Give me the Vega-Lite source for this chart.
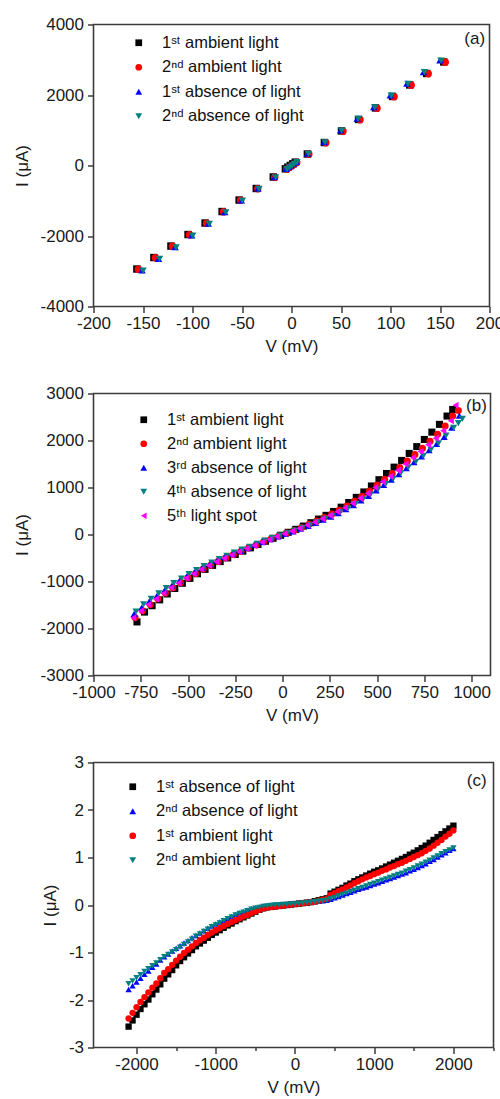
{
"$schema":"https://vega.github.io/schema/vega-lite/v6.json",
"background":"white",
"padding":{"left":11.5,"top":14.5,"right":0,"bottom":0},
"bounds":"flush",
"spacing":87,
"resolve":{"scale":{"color":"independent","shape":"independent"},"legend":{"color":"independent","shape":"independent"}},
"config":{
"view":{"stroke":"#3c3c3c","strokeWidth":1.6},
"axis":{"labelFont":"Liberation Sans","labelFontSize":17,"labelColor":"#1a1a1a","titleFont":"Liberation Sans","titleFontSize":17,"titleFontWeight":"normal","titleColor":"#1a1a1a","tickColor":"#3c3c3c","tickWidth":1.5,"domain":false,"grid":false,"labelOverlap":false,"labelBound":false,"labelFlush":false},
"axisX":{"labelPadding":3,"titlePadding":7},
"axisY":{"labelPadding":4,"titlePadding":9},
"legend":{"labelFont":"Liberation Sans, DejaVu Sans","labelFontSize":16.5,"labelColor":"#111","symbolSize":45,"symbolStrokeWidth":0,"rowPadding":7.5,"labelOffset":15,"padding":0,"title":null},
"text":{"font":"Liberation Sans","fontSize":17,"color":"#1a1a1a"}
},
"datasets":{
"a":[
{"s":"1ˢᵗ ambient light","V":-156.2,"I":-2937},{"s":"1ˢᵗ ambient light","V":-139,"I":-2611},{"s":"1ˢᵗ ambient light","V":-121.8,"I":-2285},{"s":"1ˢᵗ ambient light","V":-104.5,"I":-1958},{"s":"1ˢᵗ ambient light","V":-87.3,"I":-1632},{"s":"1ˢᵗ ambient light","V":-70.1,"I":-1306},{"s":"1ˢᵗ ambient light","V":-52.9,"I":-980},{"s":"1ˢᵗ ambient light","V":-35.6,"I":-652},{"s":"1ˢᵗ ambient light","V":-18.4,"I":-326},{"s":"1ˢᵗ ambient light","V":-6.2,"I":-95},{"s":"1ˢᵗ ambient light","V":-3.7,"I":-47},{"s":"1ˢᵗ ambient light","V":-1.2,"I":0},{"s":"1ˢᵗ ambient light","V":1.3,"I":47},{"s":"1ˢᵗ ambient light","V":3.8,"I":95},{"s":"1ˢᵗ ambient light","V":16,"I":326},{"s":"1ˢᵗ ambient light","V":33.2,"I":652},{"s":"1ˢᵗ ambient light","V":50.5,"I":980},{"s":"1ˢᵗ ambient light","V":67.7,"I":1306},{"s":"1ˢᵗ ambient light","V":84.9,"I":1632},{"s":"1ˢᵗ ambient light","V":102.1,"I":1958},{"s":"1ˢᵗ ambient light","V":119.4,"I":2285},{"s":"1ˢᵗ ambient light","V":136.6,"I":2611},{"s":"1ˢᵗ ambient light","V":153.8,"I":2937},
{"s":"2ⁿᵈ ambient light","V":-154.7,"I":-2945},{"s":"2ⁿᵈ ambient light","V":-137.5,"I":-2619},{"s":"2ⁿᵈ ambient light","V":-120.3,"I":-2293},{"s":"2ⁿᵈ ambient light","V":-103,"I":-1966},{"s":"2ⁿᵈ ambient light","V":-85.8,"I":-1640},{"s":"2ⁿᵈ ambient light","V":-68.6,"I":-1314},{"s":"2ⁿᵈ ambient light","V":-51.4,"I":-988},{"s":"2ⁿᵈ ambient light","V":-34.1,"I":-660},{"s":"2ⁿᵈ ambient light","V":-16.9,"I":-334},{"s":"2ⁿᵈ ambient light","V":-4.7,"I":-103},{"s":"2ⁿᵈ ambient light","V":-2.2,"I":-55},{"s":"2ⁿᵈ ambient light","V":0.3,"I":-8},{"s":"2ⁿᵈ ambient light","V":2.8,"I":39},{"s":"2ⁿᵈ ambient light","V":5.3,"I":87},{"s":"2ⁿᵈ ambient light","V":17.5,"I":318},{"s":"2ⁿᵈ ambient light","V":34.7,"I":644},{"s":"2ⁿᵈ ambient light","V":52,"I":972},{"s":"2ⁿᵈ ambient light","V":69.2,"I":1298},{"s":"2ⁿᵈ ambient light","V":86.4,"I":1624},{"s":"2ⁿᵈ ambient light","V":103.6,"I":1950},{"s":"2ⁿᵈ ambient light","V":120.9,"I":2277},{"s":"2ⁿᵈ ambient light","V":138.1,"I":2603},{"s":"2ⁿᵈ ambient light","V":155.3,"I":2929},
{"s":"1ˢᵗ absence of light","V":-151,"I":-2975},{"s":"1ˢᵗ absence of light","V":-134.3,"I":-2644},{"s":"1ˢᵗ absence of light","V":-117.6,"I":-2314},{"s":"1ˢᵗ absence of light","V":-100.8,"I":-1981},{"s":"1ˢᵗ absence of light","V":-84.1,"I":-1650},{"s":"1ˢᵗ absence of light","V":-67.4,"I":-1320},{"s":"1ˢᵗ absence of light","V":-50.7,"I":-989},{"s":"1ˢᵗ absence of light","V":-33.9,"I":-656},{"s":"1ˢᵗ absence of light","V":-17.2,"I":-326},{"s":"1ˢᵗ absence of light","V":-5.5,"I":-94},{"s":"1ˢᵗ absence of light","V":-3,"I":-45},{"s":"1ˢᵗ absence of light","V":-0.5,"I":5},{"s":"1ˢᵗ absence of light","V":2,"I":55},{"s":"1ˢᵗ absence of light","V":4.5,"I":104},{"s":"1ˢᵗ absence of light","V":16.2,"I":336},{"s":"1ˢᵗ absence of light","V":32.9,"I":666},{"s":"1ˢᵗ absence of light","V":49.7,"I":999},{"s":"1ˢᵗ absence of light","V":66.4,"I":1330},{"s":"1ˢᵗ absence of light","V":83.1,"I":1660},{"s":"1ˢᵗ absence of light","V":99.8,"I":1991},{"s":"1ˢᵗ absence of light","V":116.6,"I":2324},{"s":"1ˢᵗ absence of light","V":133.3,"I":2654},{"s":"1ˢᵗ absence of light","V":150,"I":2985},
{"s":"2ⁿᵈ absence of light","V":-150,"I":-2985},{"s":"2ⁿᵈ absence of light","V":-133.3,"I":-2654},{"s":"2ⁿᵈ absence of light","V":-116.6,"I":-2324},{"s":"2ⁿᵈ absence of light","V":-99.8,"I":-1991},{"s":"2ⁿᵈ absence of light","V":-83.1,"I":-1660},{"s":"2ⁿᵈ absence of light","V":-66.4,"I":-1330},{"s":"2ⁿᵈ absence of light","V":-49.7,"I":-999},{"s":"2ⁿᵈ absence of light","V":-32.9,"I":-666},{"s":"2ⁿᵈ absence of light","V":-16.2,"I":-336},{"s":"2ⁿᵈ absence of light","V":-4.5,"I":-104},{"s":"2ⁿᵈ absence of light","V":-2,"I":-55},{"s":"2ⁿᵈ absence of light","V":0.5,"I":-5},{"s":"2ⁿᵈ absence of light","V":3,"I":45},{"s":"2ⁿᵈ absence of light","V":5.5,"I":94},{"s":"2ⁿᵈ absence of light","V":17.2,"I":326},{"s":"2ⁿᵈ absence of light","V":33.9,"I":656},{"s":"2ⁿᵈ absence of light","V":50.7,"I":989},{"s":"2ⁿᵈ absence of light","V":67.4,"I":1320},{"s":"2ⁿᵈ absence of light","V":84.1,"I":1650},{"s":"2ⁿᵈ absence of light","V":100.8,"I":1981},{"s":"2ⁿᵈ absence of light","V":117.6,"I":2314},{"s":"2ⁿᵈ absence of light","V":134.3,"I":2644},{"s":"2ⁿᵈ absence of light","V":151,"I":2975}
],
"b":[
{"s":"1ˢᵗ ambient light","V":-770,"I":-1860},{"s":"1ˢᵗ ambient light","V":-730,"I":-1650},{"s":"1ˢᵗ ambient light","V":-690,"I":-1515},{"s":"1ˢᵗ ambient light","V":-650,"I":-1390},{"s":"1ˢᵗ ambient light","V":-610,"I":-1265},{"s":"1ˢᵗ ambient light","V":-570,"I":-1148},{"s":"1ˢᵗ ambient light","V":-530,"I":-1037},{"s":"1ˢᵗ ambient light","V":-490,"I":-933},{"s":"1ˢᵗ ambient light","V":-450,"I":-835},{"s":"1ˢᵗ ambient light","V":-410,"I":-742},{"s":"1ˢᵗ ambient light","V":-370,"I":-657},{"s":"1ˢᵗ ambient light","V":-330,"I":-576},{"s":"1ˢᵗ ambient light","V":-290,"I":-498},{"s":"1ˢᵗ ambient light","V":-250,"I":-424},{"s":"1ˢᵗ ambient light","V":-210,"I":-353},{"s":"1ˢᵗ ambient light","V":-170,"I":-284},{"s":"1ˢᵗ ambient light","V":-130,"I":-212},{"s":"1ˢᵗ ambient light","V":-90,"I":-143},{"s":"1ˢᵗ ambient light","V":-50,"I":-80},{"s":"1ˢᵗ ambient light","V":-10,"I":-16},{"s":"1ˢᵗ ambient light","V":30,"I":47},{"s":"1ˢᵗ ambient light","V":70,"I":110},{"s":"1ˢᵗ ambient light","V":110,"I":179},{"s":"1ˢᵗ ambient light","V":150,"I":251},{"s":"1ˢᵗ ambient light","V":190,"I":328},{"s":"1ˢᵗ ambient light","V":230,"I":407},{"s":"1ˢᵗ ambient light","V":270,"I":490},{"s":"1ˢᵗ ambient light","V":310,"I":581},{"s":"1ˢᵗ ambient light","V":350,"I":680},{"s":"1ˢᵗ ambient light","V":390,"I":790},{"s":"1ˢᵗ ambient light","V":430,"I":905},{"s":"1ˢᵗ ambient light","V":470,"I":1032},{"s":"1ˢᵗ ambient light","V":510,"I":1166},{"s":"1ˢᵗ ambient light","V":550,"I":1298},{"s":"1ˢᵗ ambient light","V":590,"I":1433},{"s":"1ˢᵗ ambient light","V":630,"I":1576},{"s":"1ˢᵗ ambient light","V":670,"I":1725},{"s":"1ˢᵗ ambient light","V":710,"I":1870},{"s":"1ˢᵗ ambient light","V":750,"I":2022},{"s":"1ˢᵗ ambient light","V":790,"I":2178},{"s":"1ˢᵗ ambient light","V":830,"I":2343},{"s":"1ˢᵗ ambient light","V":870,"I":2520},{"s":"1ˢᵗ ambient light","V":900,"I":2660},
{"s":"2ⁿᵈ ambient light","V":-780,"I":-1768},{"s":"2ⁿᵈ ambient light","V":-740,"I":-1623},{"s":"2ⁿᵈ ambient light","V":-700,"I":-1489},{"s":"2ⁿᵈ ambient light","V":-660,"I":-1367},{"s":"2ⁿᵈ ambient light","V":-620,"I":-1246},{"s":"2ⁿᵈ ambient light","V":-580,"I":-1131},{"s":"2ⁿᵈ ambient light","V":-540,"I":-1024},{"s":"2ⁿᵈ ambient light","V":-500,"I":-920},{"s":"2ⁿᵈ ambient light","V":-460,"I":-828},{"s":"2ⁿᵈ ambient light","V":-420,"I":-734},{"s":"2ⁿᵈ ambient light","V":-380,"I":-653},{"s":"2ⁿᵈ ambient light","V":-340,"I":-572},{"s":"2ⁿᵈ ambient light","V":-300,"I":-497},{"s":"2ⁿᵈ ambient light","V":-260,"I":-426},{"s":"2ⁿᵈ ambient light","V":-220,"I":-356},{"s":"2ⁿᵈ ambient light","V":-180,"I":-289},{"s":"2ⁿᵈ ambient light","V":-140,"I":-222},{"s":"2ⁿᵈ ambient light","V":-100,"I":-153},{"s":"2ⁿᵈ ambient light","V":-60,"I":-92},{"s":"2ⁿᵈ ambient light","V":-20,"I":-31},{"s":"2ⁿᵈ ambient light","V":20,"I":29},{"s":"2ⁿᵈ ambient light","V":60,"I":87},{"s":"2ⁿᵈ ambient light","V":100,"I":149},{"s":"2ⁿᵈ ambient light","V":140,"I":216},{"s":"2ⁿᵈ ambient light","V":180,"I":284},{"s":"2ⁿᵈ ambient light","V":220,"I":360},{"s":"2ⁿᵈ ambient light","V":260,"I":433},{"s":"2ⁿᵈ ambient light","V":300,"I":516},{"s":"2ⁿᵈ ambient light","V":340,"I":605},{"s":"2ⁿᵈ ambient light","V":380,"I":705},{"s":"2ⁿᵈ ambient light","V":420,"I":812},{"s":"2ⁿᵈ ambient light","V":460,"I":925},{"s":"2ⁿᵈ ambient light","V":500,"I":1051},{"s":"2ⁿᵈ ambient light","V":540,"I":1173},{"s":"2ⁿᵈ ambient light","V":580,"I":1296},{"s":"2ⁿᵈ ambient light","V":620,"I":1427},{"s":"2ⁿᵈ ambient light","V":660,"I":1564},{"s":"2ⁿᵈ ambient light","V":700,"I":1701},{"s":"2ⁿᵈ ambient light","V":740,"I":1837},{"s":"2ⁿᵈ ambient light","V":780,"I":1984},{"s":"2ⁿᵈ ambient light","V":820,"I":2132},{"s":"2ⁿᵈ ambient light","V":860,"I":2308},{"s":"2ⁿᵈ ambient light","V":900,"I":2520},{"s":"2ⁿᵈ ambient light","V":930,"I":2640},
{"s":"3ʳᵈ absence of light","V":-785,"I":-1690},{"s":"3ʳᵈ absence of light","V":-745,"I":-1552},{"s":"3ʳᵈ absence of light","V":-705,"I":-1423},{"s":"3ʳᵈ absence of light","V":-665,"I":-1308},{"s":"3ʳᵈ absence of light","V":-625,"I":-1194},{"s":"3ʳᵈ absence of light","V":-585,"I":-1084},{"s":"3ʳᵈ absence of light","V":-545,"I":-984},{"s":"3ʳᵈ absence of light","V":-505,"I":-883},{"s":"3ʳᵈ absence of light","V":-465,"I":-797},{"s":"3ʳᵈ absence of light","V":-425,"I":-707},{"s":"3ʳᵈ absence of light","V":-385,"I":-630},{"s":"3ʳᵈ absence of light","V":-345,"I":-554},{"s":"3ʳᵈ absence of light","V":-305,"I":-482},{"s":"3ʳᵈ absence of light","V":-265,"I":-415},{"s":"3ʳᵈ absence of light","V":-225,"I":-349},{"s":"3ʳᵈ absence of light","V":-185,"I":-287},{"s":"3ʳᵈ absence of light","V":-145,"I":-224},{"s":"3ʳᵈ absence of light","V":-105,"I":-158},{"s":"3ʳᵈ absence of light","V":-65,"I":-100},{"s":"3ʳᵈ absence of light","V":-25,"I":-43},{"s":"3ʳᵈ absence of light","V":15,"I":14},{"s":"3ʳᵈ absence of light","V":55,"I":66},{"s":"3ʳᵈ absence of light","V":95,"I":122},{"s":"3ʳᵈ absence of light","V":135,"I":183},{"s":"3ʳᵈ absence of light","V":175,"I":244},{"s":"3ʳᵈ absence of light","V":215,"I":315},{"s":"3ʳᵈ absence of light","V":255,"I":381},{"s":"3ʳᵈ absence of light","V":295,"I":456},{"s":"3ʳᵈ absence of light","V":335,"I":536},{"s":"3ʳᵈ absence of light","V":375,"I":625},{"s":"3ʳᵈ absence of light","V":415,"I":724},{"s":"3ʳᵈ absence of light","V":455,"I":823},{"s":"3ʳᵈ absence of light","V":495,"I":940},{"s":"3ʳᵈ absence of light","V":535,"I":1053},{"s":"3ʳᵈ absence of light","V":575,"I":1166},{"s":"3ʳᵈ absence of light","V":615,"I":1283},{"s":"3ʳᵈ absence of light","V":655,"I":1410},{"s":"3ʳᵈ absence of light","V":695,"I":1537},{"s":"3ʳᵈ absence of light","V":735,"I":1659},{"s":"3ʳᵈ absence of light","V":775,"I":1795},{"s":"3ʳᵈ absence of light","V":815,"I":1927},{"s":"3ʳᵈ absence of light","V":855,"I":2077},{"s":"3ʳᵈ absence of light","V":895,"I":2275},{"s":"3ʳᵈ absence of light","V":935,"I":2530},
{"s":"4ᵗʰ absence of light","V":-775,"I":-1640},{"s":"4ᵗʰ absence of light","V":-735,"I":-1488},{"s":"4ᵗʰ absence of light","V":-695,"I":-1366},{"s":"4ᵗʰ absence of light","V":-655,"I":-1252},{"s":"4ᵗʰ absence of light","V":-615,"I":-1141},{"s":"4ᵗʰ absence of light","V":-575,"I":-1035},{"s":"4ᵗʰ absence of light","V":-535,"I":-936},{"s":"4ᵗʰ absence of light","V":-495,"I":-842},{"s":"4ᵗʰ absence of light","V":-455,"I":-756},{"s":"4ᵗʰ absence of light","V":-415,"I":-672},{"s":"4ᵗʰ absence of light","V":-375,"I":-596},{"s":"4ᵗʰ absence of light","V":-335,"I":-521},{"s":"4ᵗʰ absence of light","V":-295,"I":-453},{"s":"4ᵗʰ absence of light","V":-255,"I":-386},{"s":"4ᵗʰ absence of light","V":-215,"I":-322},{"s":"4ᵗʰ absence of light","V":-175,"I":-261},{"s":"4ᵗʰ absence of light","V":-135,"I":-198},{"s":"4ᵗʰ absence of light","V":-95,"I":-134},{"s":"4ᵗʰ absence of light","V":-55,"I":-78},{"s":"4ᵗʰ absence of light","V":-15,"I":-21},{"s":"4ᵗʰ absence of light","V":25,"I":32},{"s":"4ᵗʰ absence of light","V":65,"I":85},{"s":"4ᵗʰ absence of light","V":105,"I":142},{"s":"4ᵗʰ absence of light","V":145,"I":202},{"s":"4ᵗʰ absence of light","V":185,"I":266},{"s":"4ᵗʰ absence of light","V":225,"I":332},{"s":"4ᵗʰ absence of light","V":265,"I":400},{"s":"4ᵗʰ absence of light","V":305,"I":476},{"s":"4ᵗʰ absence of light","V":345,"I":557},{"s":"4ᵗʰ absence of light","V":385,"I":649},{"s":"4ᵗʰ absence of light","V":425,"I":744},{"s":"4ᵗʰ absence of light","V":465,"I":848},{"s":"4ᵗʰ absence of light","V":505,"I":961},{"s":"4ᵗʰ absence of light","V":545,"I":1072},{"s":"4ᵗʰ absence of light","V":585,"I":1184},{"s":"4ᵗʰ absence of light","V":625,"I":1303},{"s":"4ᵗʰ absence of light","V":665,"I":1427},{"s":"4ᵗʰ absence of light","V":705,"I":1549},{"s":"4ᵗʰ absence of light","V":745,"I":1673},{"s":"4ᵗʰ absence of light","V":785,"I":1806},{"s":"4ᵗʰ absence of light","V":825,"I":1941},{"s":"4ᵗʰ absence of light","V":865,"I":2106},{"s":"4ᵗʰ absence of light","V":905,"I":2270},{"s":"4ᵗʰ absence of light","V":930,"I":2370},{"s":"4ᵗʰ absence of light","V":951,"I":2461},
{"s":"5ᵗʰ light spot","V":-790,"I":-1770},{"s":"5ᵗʰ light spot","V":-750,"I":-1625},{"s":"5ᵗʰ light spot","V":-710,"I":-1490},{"s":"5ᵗʰ light spot","V":-670,"I":-1370},{"s":"5ᵗʰ light spot","V":-630,"I":-1250},{"s":"5ᵗʰ light spot","V":-590,"I":-1135},{"s":"5ᵗʰ light spot","V":-550,"I":-1030},{"s":"5ᵗʰ light spot","V":-510,"I":-925},{"s":"5ᵗʰ light spot","V":-470,"I":-835},{"s":"5ᵗʰ light spot","V":-430,"I":-740},{"s":"5ᵗʰ light spot","V":-390,"I":-660},{"s":"5ᵗʰ light spot","V":-350,"I":-580},{"s":"5ᵗʰ light spot","V":-310,"I":-505},{"s":"5ᵗʰ light spot","V":-270,"I":-435},{"s":"5ᵗʰ light spot","V":-230,"I":-365},{"s":"5ᵗʰ light spot","V":-190,"I":-300},{"s":"5ᵗʰ light spot","V":-150,"I":-235},{"s":"5ᵗʰ light spot","V":-110,"I":-165},{"s":"5ᵗʰ light spot","V":-70,"I":-105},{"s":"5ᵗʰ light spot","V":-30,"I":-45},{"s":"5ᵗʰ light spot","V":10,"I":15},{"s":"5ᵗʰ light spot","V":50,"I":70},{"s":"5ᵗʰ light spot","V":90,"I":130},{"s":"5ᵗʰ light spot","V":130,"I":195},{"s":"5ᵗʰ light spot","V":170,"I":260},{"s":"5ᵗʰ light spot","V":210,"I":335},{"s":"5ᵗʰ light spot","V":250,"I":405},{"s":"5ᵗʰ light spot","V":290,"I":485},{"s":"5ᵗʰ light spot","V":330,"I":570},{"s":"5ᵗʰ light spot","V":370,"I":665},{"s":"5ᵗʰ light spot","V":410,"I":770},{"s":"5ᵗʰ light spot","V":450,"I":875},{"s":"5ᵗʰ light spot","V":490,"I":1000},{"s":"5ᵗʰ light spot","V":530,"I":1120},{"s":"5ᵗʰ light spot","V":570,"I":1240},{"s":"5ᵗʰ light spot","V":610,"I":1365},{"s":"5ᵗʰ light spot","V":650,"I":1500},{"s":"5ᵗʰ light spot","V":690,"I":1635},{"s":"5ᵗʰ light spot","V":730,"I":1765},{"s":"5ᵗʰ light spot","V":770,"I":1910},{"s":"5ᵗʰ light spot","V":810,"I":2050},{"s":"5ᵗʰ light spot","V":850,"I":2210},{"s":"5ᵗʰ light spot","V":890,"I":2420},{"s":"5ᵗʰ light spot","V":915,"I":2750}
],
"c":[
{"s":"1ˢᵗ absence of light","V":-2100,"I":-2.56},{"s":"1ˢᵗ absence of light","V":-2050,"I":-2.43},{"s":"1ˢᵗ absence of light","V":-2000,"I":-2.31},{"s":"1ˢᵗ absence of light","V":-1950,"I":-2.19},{"s":"1ˢᵗ absence of light","V":-1900,"I":-2.09},{"s":"1ˢᵗ absence of light","V":-1850,"I":-1.99},{"s":"1ˢᵗ absence of light","V":-1800,"I":-1.88},{"s":"1ˢᵗ absence of light","V":-1750,"I":-1.78},{"s":"1ˢᵗ absence of light","V":-1700,"I":-1.67},{"s":"1ˢᵗ absence of light","V":-1650,"I":-1.55},{"s":"1ˢᵗ absence of light","V":-1600,"I":-1.46},{"s":"1ˢᵗ absence of light","V":-1550,"I":-1.37},{"s":"1ˢᵗ absence of light","V":-1500,"I":-1.27},{"s":"1ˢᵗ absence of light","V":-1450,"I":-1.18},{"s":"1ˢᵗ absence of light","V":-1400,"I":-1.10},{"s":"1ˢᵗ absence of light","V":-1350,"I":-1.02},{"s":"1ˢᵗ absence of light","V":-1300,"I":-0.95},{"s":"1ˢᵗ absence of light","V":-1250,"I":-0.87},{"s":"1ˢᵗ absence of light","V":-1200,"I":-0.81},{"s":"1ˢᵗ absence of light","V":-1150,"I":-0.75},{"s":"1ˢᵗ absence of light","V":-1100,"I":-0.69},{"s":"1ˢᵗ absence of light","V":-1050,"I":-0.63},{"s":"1ˢᵗ absence of light","V":-1000,"I":-0.58},{"s":"1ˢᵗ absence of light","V":-950,"I":-0.53},{"s":"1ˢᵗ absence of light","V":-900,"I":-0.48},{"s":"1ˢᵗ absence of light","V":-850,"I":-0.43},{"s":"1ˢᵗ absence of light","V":-800,"I":-0.39},{"s":"1ˢᵗ absence of light","V":-750,"I":-0.34},{"s":"1ˢᵗ absence of light","V":-700,"I":-0.30},{"s":"1ˢᵗ absence of light","V":-650,"I":-0.26},{"s":"1ˢᵗ absence of light","V":-600,"I":-0.22},{"s":"1ˢᵗ absence of light","V":-550,"I":-0.18},{"s":"1ˢᵗ absence of light","V":-500,"I":-0.14},{"s":"1ˢᵗ absence of light","V":-450,"I":-0.10},{"s":"1ˢᵗ absence of light","V":-400,"I":-0.07},{"s":"1ˢᵗ absence of light","V":-350,"I":-0.05},{"s":"1ˢᵗ absence of light","V":-300,"I":-0.04},{"s":"1ˢᵗ absence of light","V":-250,"I":-0.03},{"s":"1ˢᵗ absence of light","V":-200,"I":-0.02},{"s":"1ˢᵗ absence of light","V":-150,"I":-0.01},{"s":"1ˢᵗ absence of light","V":-100,"I":0.0},{"s":"1ˢᵗ absence of light","V":-50,"I":0.01},{"s":"1ˢᵗ absence of light","V":0,"I":0.02},{"s":"1ˢᵗ absence of light","V":50,"I":0.03},{"s":"1ˢᵗ absence of light","V":100,"I":0.04},{"s":"1ˢᵗ absence of light","V":150,"I":0.05},{"s":"1ˢᵗ absence of light","V":200,"I":0.06},{"s":"1ˢᵗ absence of light","V":250,"I":0.08},{"s":"1ˢᵗ absence of light","V":300,"I":0.10},{"s":"1ˢᵗ absence of light","V":350,"I":0.12},{"s":"1ˢᵗ absence of light","V":400,"I":0.14},{"s":"1ˢᵗ absence of light","V":450,"I":0.24},{"s":"1ˢᵗ absence of light","V":500,"I":0.28},{"s":"1ˢᵗ absence of light","V":550,"I":0.32},{"s":"1ˢᵗ absence of light","V":600,"I":0.36},{"s":"1ˢᵗ absence of light","V":650,"I":0.41},{"s":"1ˢᵗ absence of light","V":700,"I":0.45},{"s":"1ˢᵗ absence of light","V":750,"I":0.50},{"s":"1ˢᵗ absence of light","V":800,"I":0.54},{"s":"1ˢᵗ absence of light","V":850,"I":0.58},{"s":"1ˢᵗ absence of light","V":900,"I":0.62},{"s":"1ˢᵗ absence of light","V":950,"I":0.66},{"s":"1ˢᵗ absence of light","V":1000,"I":0.70},{"s":"1ˢᵗ absence of light","V":1050,"I":0.73},{"s":"1ˢᵗ absence of light","V":1100,"I":0.77},{"s":"1ˢᵗ absence of light","V":1150,"I":0.81},{"s":"1ˢᵗ absence of light","V":1200,"I":0.85},{"s":"1ˢᵗ absence of light","V":1250,"I":0.89},{"s":"1ˢᵗ absence of light","V":1300,"I":0.93},{"s":"1ˢᵗ absence of light","V":1350,"I":0.97},{"s":"1ˢᵗ absence of light","V":1400,"I":1.01},{"s":"1ˢᵗ absence of light","V":1450,"I":1.06},{"s":"1ˢᵗ absence of light","V":1500,"I":1.10},{"s":"1ˢᵗ absence of light","V":1550,"I":1.15},{"s":"1ˢᵗ absence of light","V":1600,"I":1.20},{"s":"1ˢᵗ absence of light","V":1650,"I":1.25},{"s":"1ˢᵗ absence of light","V":1700,"I":1.31},{"s":"1ˢᵗ absence of light","V":1750,"I":1.37},{"s":"1ˢᵗ absence of light","V":1800,"I":1.43},{"s":"1ˢᵗ absence of light","V":1850,"I":1.49},{"s":"1ˢᵗ absence of light","V":1900,"I":1.55},{"s":"1ˢᵗ absence of light","V":1950,"I":1.61},{"s":"1ˢᵗ absence of light","V":2000,"I":1.67},
{"s":"2ⁿᵈ absence of light","V":-2100,"I":-1.78},{"s":"2ⁿᵈ absence of light","V":-2050,"I":-1.70},{"s":"2ⁿᵈ absence of light","V":-2000,"I":-1.62},{"s":"2ⁿᵈ absence of light","V":-1950,"I":-1.54},{"s":"2ⁿᵈ absence of light","V":-1900,"I":-1.46},{"s":"2ⁿᵈ absence of light","V":-1850,"I":-1.39},{"s":"2ⁿᵈ absence of light","V":-1800,"I":-1.31},{"s":"2ⁿᵈ absence of light","V":-1750,"I":-1.24},{"s":"2ⁿᵈ absence of light","V":-1700,"I":-1.16},{"s":"2ⁿᵈ absence of light","V":-1650,"I":-1.09},{"s":"2ⁿᵈ absence of light","V":-1600,"I":-1.03},{"s":"2ⁿᵈ absence of light","V":-1550,"I":-0.97},{"s":"2ⁿᵈ absence of light","V":-1500,"I":-0.91},{"s":"2ⁿᵈ absence of light","V":-1450,"I":-0.86},{"s":"2ⁿᵈ absence of light","V":-1400,"I":-0.80},{"s":"2ⁿᵈ absence of light","V":-1350,"I":-0.75},{"s":"2ⁿᵈ absence of light","V":-1300,"I":-0.69},{"s":"2ⁿᵈ absence of light","V":-1250,"I":-0.64},{"s":"2ⁿᵈ absence of light","V":-1200,"I":-0.59},{"s":"2ⁿᵈ absence of light","V":-1150,"I":-0.54},{"s":"2ⁿᵈ absence of light","V":-1100,"I":-0.49},{"s":"2ⁿᵈ absence of light","V":-1050,"I":-0.44},{"s":"2ⁿᵈ absence of light","V":-1000,"I":-0.40},{"s":"2ⁿᵈ absence of light","V":-950,"I":-0.36},{"s":"2ⁿᵈ absence of light","V":-900,"I":-0.32},{"s":"2ⁿᵈ absence of light","V":-850,"I":-0.28},{"s":"2ⁿᵈ absence of light","V":-800,"I":-0.24},{"s":"2ⁿᵈ absence of light","V":-750,"I":-0.20},{"s":"2ⁿᵈ absence of light","V":-700,"I":-0.17},{"s":"2ⁿᵈ absence of light","V":-650,"I":-0.14},{"s":"2ⁿᵈ absence of light","V":-600,"I":-0.11},{"s":"2ⁿᵈ absence of light","V":-550,"I":-0.08},{"s":"2ⁿᵈ absence of light","V":-500,"I":-0.06},{"s":"2ⁿᵈ absence of light","V":-450,"I":-0.04},{"s":"2ⁿᵈ absence of light","V":-400,"I":-0.02},{"s":"2ⁿᵈ absence of light","V":-350,"I":-0.01},{"s":"2ⁿᵈ absence of light","V":-300,"I":0.0},{"s":"2ⁿᵈ absence of light","V":-250,"I":0.01},{"s":"2ⁿᵈ absence of light","V":-200,"I":0.01},{"s":"2ⁿᵈ absence of light","V":-150,"I":0.02},{"s":"2ⁿᵈ absence of light","V":-100,"I":0.02},{"s":"2ⁿᵈ absence of light","V":-50,"I":0.03},{"s":"2ⁿᵈ absence of light","V":0,"I":0.03},{"s":"2ⁿᵈ absence of light","V":50,"I":0.04},{"s":"2ⁿᵈ absence of light","V":100,"I":0.05},{"s":"2ⁿᵈ absence of light","V":150,"I":0.05},{"s":"2ⁿᵈ absence of light","V":200,"I":0.06},{"s":"2ⁿᵈ absence of light","V":250,"I":0.07},{"s":"2ⁿᵈ absence of light","V":300,"I":0.08},{"s":"2ⁿᵈ absence of light","V":350,"I":0.09},{"s":"2ⁿᵈ absence of light","V":400,"I":0.10},{"s":"2ⁿᵈ absence of light","V":450,"I":0.12},{"s":"2ⁿᵈ absence of light","V":500,"I":0.15},{"s":"2ⁿᵈ absence of light","V":550,"I":0.18},{"s":"2ⁿᵈ absence of light","V":600,"I":0.21},{"s":"2ⁿᵈ absence of light","V":650,"I":0.24},{"s":"2ⁿᵈ absence of light","V":700,"I":0.27},{"s":"2ⁿᵈ absence of light","V":750,"I":0.30},{"s":"2ⁿᵈ absence of light","V":800,"I":0.33},{"s":"2ⁿᵈ absence of light","V":850,"I":0.36},{"s":"2ⁿᵈ absence of light","V":900,"I":0.38},{"s":"2ⁿᵈ absence of light","V":950,"I":0.41},{"s":"2ⁿᵈ absence of light","V":1000,"I":0.44},{"s":"2ⁿᵈ absence of light","V":1050,"I":0.47},{"s":"2ⁿᵈ absence of light","V":1100,"I":0.50},{"s":"2ⁿᵈ absence of light","V":1150,"I":0.53},{"s":"2ⁿᵈ absence of light","V":1200,"I":0.56},{"s":"2ⁿᵈ absence of light","V":1250,"I":0.59},{"s":"2ⁿᵈ absence of light","V":1300,"I":0.62},{"s":"2ⁿᵈ absence of light","V":1350,"I":0.65},{"s":"2ⁿᵈ absence of light","V":1400,"I":0.68},{"s":"2ⁿᵈ absence of light","V":1450,"I":0.72},{"s":"2ⁿᵈ absence of light","V":1500,"I":0.75},{"s":"2ⁿᵈ absence of light","V":1550,"I":0.79},{"s":"2ⁿᵈ absence of light","V":1600,"I":0.83},{"s":"2ⁿᵈ absence of light","V":1650,"I":0.87},{"s":"2ⁿᵈ absence of light","V":1700,"I":0.92},{"s":"2ⁿᵈ absence of light","V":1750,"I":0.96},{"s":"2ⁿᵈ absence of light","V":1800,"I":1.01},{"s":"2ⁿᵈ absence of light","V":1850,"I":1.06},{"s":"2ⁿᵈ absence of light","V":1900,"I":1.10},{"s":"2ⁿᵈ absence of light","V":1950,"I":1.15},{"s":"2ⁿᵈ absence of light","V":2000,"I":1.19},
{"s":"1ˢᵗ ambient light","V":-2100,"I":-2.39},{"s":"1ˢᵗ ambient light","V":-2050,"I":-2.27},{"s":"1ˢᵗ ambient light","V":-2000,"I":-2.15},{"s":"1ˢᵗ ambient light","V":-1950,"I":-2.04},{"s":"1ˢᵗ ambient light","V":-1900,"I":-1.94},{"s":"1ˢᵗ ambient light","V":-1850,"I":-1.84},{"s":"1ˢᵗ ambient light","V":-1800,"I":-1.74},{"s":"1ˢᵗ ambient light","V":-1750,"I":-1.65},{"s":"1ˢᵗ ambient light","V":-1700,"I":-1.54},{"s":"1ˢᵗ ambient light","V":-1650,"I":-1.43},{"s":"1ˢᵗ ambient light","V":-1600,"I":-1.35},{"s":"1ˢᵗ ambient light","V":-1550,"I":-1.26},{"s":"1ˢᵗ ambient light","V":-1500,"I":-1.17},{"s":"1ˢᵗ ambient light","V":-1450,"I":-1.09},{"s":"1ˢᵗ ambient light","V":-1400,"I":-1.01},{"s":"1ˢᵗ ambient light","V":-1350,"I":-0.94},{"s":"1ˢᵗ ambient light","V":-1300,"I":-0.87},{"s":"1ˢᵗ ambient light","V":-1250,"I":-0.80},{"s":"1ˢᵗ ambient light","V":-1200,"I":-0.74},{"s":"1ˢᵗ ambient light","V":-1150,"I":-0.69},{"s":"1ˢᵗ ambient light","V":-1100,"I":-0.63},{"s":"1ˢᵗ ambient light","V":-1050,"I":-0.58},{"s":"1ˢᵗ ambient light","V":-1000,"I":-0.53},{"s":"1ˢᵗ ambient light","V":-950,"I":-0.49},{"s":"1ˢᵗ ambient light","V":-900,"I":-0.44},{"s":"1ˢᵗ ambient light","V":-850,"I":-0.40},{"s":"1ˢᵗ ambient light","V":-800,"I":-0.36},{"s":"1ˢᵗ ambient light","V":-750,"I":-0.32},{"s":"1ˢᵗ ambient light","V":-700,"I":-0.28},{"s":"1ˢᵗ ambient light","V":-650,"I":-0.24},{"s":"1ˢᵗ ambient light","V":-600,"I":-0.21},{"s":"1ˢᵗ ambient light","V":-550,"I":-0.17},{"s":"1ˢᵗ ambient light","V":-500,"I":-0.13},{"s":"1ˢᵗ ambient light","V":-450,"I":-0.10},{"s":"1ˢᵗ ambient light","V":-400,"I":-0.07},{"s":"1ˢᵗ ambient light","V":-350,"I":-0.05},{"s":"1ˢᵗ ambient light","V":-300,"I":-0.04},{"s":"1ˢᵗ ambient light","V":-250,"I":-0.03},{"s":"1ˢᵗ ambient light","V":-200,"I":-0.02},{"s":"1ˢᵗ ambient light","V":-150,"I":-0.01},{"s":"1ˢᵗ ambient light","V":-100,"I":0.0},{"s":"1ˢᵗ ambient light","V":-50,"I":0.01},{"s":"1ˢᵗ ambient light","V":0,"I":0.02},{"s":"1ˢᵗ ambient light","V":50,"I":0.03},{"s":"1ˢᵗ ambient light","V":100,"I":0.04},{"s":"1ˢᵗ ambient light","V":150,"I":0.05},{"s":"1ˢᵗ ambient light","V":200,"I":0.06},{"s":"1ˢᵗ ambient light","V":250,"I":0.07},{"s":"1ˢᵗ ambient light","V":300,"I":0.09},{"s":"1ˢᵗ ambient light","V":350,"I":0.11},{"s":"1ˢᵗ ambient light","V":400,"I":0.13},{"s":"1ˢᵗ ambient light","V":450,"I":0.21},{"s":"1ˢᵗ ambient light","V":500,"I":0.25},{"s":"1ˢᵗ ambient light","V":550,"I":0.29},{"s":"1ˢᵗ ambient light","V":600,"I":0.33},{"s":"1ˢᵗ ambient light","V":650,"I":0.37},{"s":"1ˢᵗ ambient light","V":700,"I":0.41},{"s":"1ˢᵗ ambient light","V":750,"I":0.46},{"s":"1ˢᵗ ambient light","V":800,"I":0.50},{"s":"1ˢᵗ ambient light","V":850,"I":0.54},{"s":"1ˢᵗ ambient light","V":900,"I":0.58},{"s":"1ˢᵗ ambient light","V":950,"I":0.61},{"s":"1ˢᵗ ambient light","V":1000,"I":0.65},{"s":"1ˢᵗ ambient light","V":1050,"I":0.68},{"s":"1ˢᵗ ambient light","V":1100,"I":0.72},{"s":"1ˢᵗ ambient light","V":1150,"I":0.75},{"s":"1ˢᵗ ambient light","V":1200,"I":0.79},{"s":"1ˢᵗ ambient light","V":1250,"I":0.82},{"s":"1ˢᵗ ambient light","V":1300,"I":0.86},{"s":"1ˢᵗ ambient light","V":1350,"I":0.89},{"s":"1ˢᵗ ambient light","V":1400,"I":0.93},{"s":"1ˢᵗ ambient light","V":1450,"I":0.97},{"s":"1ˢᵗ ambient light","V":1500,"I":1.01},{"s":"1ˢᵗ ambient light","V":1550,"I":1.05},{"s":"1ˢᵗ ambient light","V":1600,"I":1.09},{"s":"1ˢᵗ ambient light","V":1650,"I":1.14},{"s":"1ˢᵗ ambient light","V":1700,"I":1.19},{"s":"1ˢᵗ ambient light","V":1750,"I":1.25},{"s":"1ˢᵗ ambient light","V":1800,"I":1.31},{"s":"1ˢᵗ ambient light","V":1850,"I":1.37},{"s":"1ˢᵗ ambient light","V":1900,"I":1.44},{"s":"1ˢᵗ ambient light","V":1950,"I":1.50},{"s":"1ˢᵗ ambient light","V":2000,"I":1.57},
{"s":"2ⁿᵈ ambient light","V":-2100,"I":-1.66},{"s":"2ⁿᵈ ambient light","V":-2050,"I":-1.60},{"s":"2ⁿᵈ ambient light","V":-2000,"I":-1.53},{"s":"2ⁿᵈ ambient light","V":-1950,"I":-1.47},{"s":"2ⁿᵈ ambient light","V":-1900,"I":-1.40},{"s":"2ⁿᵈ ambient light","V":-1850,"I":-1.34},{"s":"2ⁿᵈ ambient light","V":-1800,"I":-1.28},{"s":"2ⁿᵈ ambient light","V":-1750,"I":-1.22},{"s":"2ⁿᵈ ambient light","V":-1700,"I":-1.15},{"s":"2ⁿᵈ ambient light","V":-1650,"I":-1.09},{"s":"2ⁿᵈ ambient light","V":-1600,"I":-1.04},{"s":"2ⁿᵈ ambient light","V":-1550,"I":-0.99},{"s":"2ⁿᵈ ambient light","V":-1500,"I":-0.94},{"s":"2ⁿᵈ ambient light","V":-1450,"I":-0.89},{"s":"2ⁿᵈ ambient light","V":-1400,"I":-0.83},{"s":"2ⁿᵈ ambient light","V":-1350,"I":-0.78},{"s":"2ⁿᵈ ambient light","V":-1300,"I":-0.72},{"s":"2ⁿᵈ ambient light","V":-1250,"I":-0.66},{"s":"2ⁿᵈ ambient light","V":-1200,"I":-0.61},{"s":"2ⁿᵈ ambient light","V":-1150,"I":-0.56},{"s":"2ⁿᵈ ambient light","V":-1100,"I":-0.51},{"s":"2ⁿᵈ ambient light","V":-1050,"I":-0.46},{"s":"2ⁿᵈ ambient light","V":-1000,"I":-0.42},{"s":"2ⁿᵈ ambient light","V":-950,"I":-0.38},{"s":"2ⁿᵈ ambient light","V":-900,"I":-0.33},{"s":"2ⁿᵈ ambient light","V":-850,"I":-0.29},{"s":"2ⁿᵈ ambient light","V":-800,"I":-0.25},{"s":"2ⁿᵈ ambient light","V":-750,"I":-0.21},{"s":"2ⁿᵈ ambient light","V":-700,"I":-0.18},{"s":"2ⁿᵈ ambient light","V":-650,"I":-0.15},{"s":"2ⁿᵈ ambient light","V":-600,"I":-0.12},{"s":"2ⁿᵈ ambient light","V":-550,"I":-0.09},{"s":"2ⁿᵈ ambient light","V":-500,"I":-0.07},{"s":"2ⁿᵈ ambient light","V":-450,"I":-0.05},{"s":"2ⁿᵈ ambient light","V":-400,"I":-0.03},{"s":"2ⁿᵈ ambient light","V":-350,"I":-0.02},{"s":"2ⁿᵈ ambient light","V":-300,"I":-0.01},{"s":"2ⁿᵈ ambient light","V":-250,"I":0.0},{"s":"2ⁿᵈ ambient light","V":-200,"I":0.0},{"s":"2ⁿᵈ ambient light","V":-150,"I":0.01},{"s":"2ⁿᵈ ambient light","V":-100,"I":0.01},{"s":"2ⁿᵈ ambient light","V":-50,"I":0.02},{"s":"2ⁿᵈ ambient light","V":0,"I":0.02},{"s":"2ⁿᵈ ambient light","V":50,"I":0.03},{"s":"2ⁿᵈ ambient light","V":100,"I":0.04},{"s":"2ⁿᵈ ambient light","V":150,"I":0.05},{"s":"2ⁿᵈ ambient light","V":200,"I":0.06},{"s":"2ⁿᵈ ambient light","V":250,"I":0.07},{"s":"2ⁿᵈ ambient light","V":300,"I":0.08},{"s":"2ⁿᵈ ambient light","V":350,"I":0.09},{"s":"2ⁿᵈ ambient light","V":400,"I":0.10},{"s":"2ⁿᵈ ambient light","V":450,"I":0.13},{"s":"2ⁿᵈ ambient light","V":500,"I":0.16},{"s":"2ⁿᵈ ambient light","V":550,"I":0.19},{"s":"2ⁿᵈ ambient light","V":600,"I":0.22},{"s":"2ⁿᵈ ambient light","V":650,"I":0.25},{"s":"2ⁿᵈ ambient light","V":700,"I":0.28},{"s":"2ⁿᵈ ambient light","V":750,"I":0.31},{"s":"2ⁿᵈ ambient light","V":800,"I":0.34},{"s":"2ⁿᵈ ambient light","V":850,"I":0.37},{"s":"2ⁿᵈ ambient light","V":900,"I":0.40},{"s":"2ⁿᵈ ambient light","V":950,"I":0.43},{"s":"2ⁿᵈ ambient light","V":1000,"I":0.46},{"s":"2ⁿᵈ ambient light","V":1050,"I":0.49},{"s":"2ⁿᵈ ambient light","V":1100,"I":0.52},{"s":"2ⁿᵈ ambient light","V":1150,"I":0.55},{"s":"2ⁿᵈ ambient light","V":1200,"I":0.58},{"s":"2ⁿᵈ ambient light","V":1250,"I":0.61},{"s":"2ⁿᵈ ambient light","V":1300,"I":0.64},{"s":"2ⁿᵈ ambient light","V":1350,"I":0.67},{"s":"2ⁿᵈ ambient light","V":1400,"I":0.71},{"s":"2ⁿᵈ ambient light","V":1450,"I":0.74},{"s":"2ⁿᵈ ambient light","V":1500,"I":0.78},{"s":"2ⁿᵈ ambient light","V":1550,"I":0.82},{"s":"2ⁿᵈ ambient light","V":1600,"I":0.86},{"s":"2ⁿᵈ ambient light","V":1650,"I":0.90},{"s":"2ⁿᵈ ambient light","V":1700,"I":0.94},{"s":"2ⁿᵈ ambient light","V":1750,"I":0.99},{"s":"2ⁿᵈ ambient light","V":1800,"I":1.03},{"s":"2ⁿᵈ ambient light","V":1850,"I":1.08},{"s":"2ⁿᵈ ambient light","V":1900,"I":1.12},{"s":"2ⁿᵈ ambient light","V":1950,"I":1.16},{"s":"2ⁿᵈ ambient light","V":2000,"I":1.20}
]
},
"vconcat":[
{
"width":396,"height":282,
"layer":[
{"data":{"name":"a"},"mark":{"type":"point","filled":true,"size":55,"opacity":1,"strokeWidth":0},
"encoding":{
"x":{"field":"V","type":"quantitative","scale":{"domain":[-200,200],"nice":false,"zero":false},"axis":{"title":"V (mV)","values":[-200,-175,-150,-125,-100,-75,-50,-25,0,25,50,75,100,125,150,175,200],"labelExpr":"datum.value % 50 === 0 ? '' + datum.value : ''","tickSize":{"condition":{"test":"datum.value % 50 === 0","value":6},"value":3}}},
"y":{"field":"I","type":"quantitative","scale":{"domain":[-4000,4000],"nice":false,"zero":false},"axis":{"title":"I (μA)","values":[-4000,-3500,-3000,-2500,-2000,-1500,-1000,-500,0,500,1000,1500,2000,2500,3000,3500,4000],"labelExpr":"datum.value % 1000 === 0 ? '' + datum.value : ''","tickSize":{"condition":{"test":"datum.value % 1000 === 0","value":6},"value":3}}},
"color":{"field":"s","type":"nominal","scale":{"domain":["1ˢᵗ ambient light","2ⁿᵈ ambient light","1ˢᵗ absence of light","2ⁿᵈ absence of light"],"range":["#000000","#ff0000","#0000ff","#008080"]},"legend":{"orient":"none","legendX":37,"legendY":10}},
"shape":{"field":"s","type":"nominal","scale":{"domain":["1ˢᵗ ambient light","2ⁿᵈ ambient light","1ˢᵗ absence of light","2ⁿᵈ absence of light"],"range":["square","circle","triangle-up","triangle-down"]},"legend":{"orient":"none","legendX":37,"legendY":10}}
}},
{"data":{"values":[{"t":"(a)"}]},"mark":{"type":"text","align":"center","baseline":"middle"},
"encoding":{"x":{"datum":185,"type":"quantitative"},"y":{"datum":3600,"type":"quantitative"},"text":{"field":"t"}}}
]
},
{
"width":397,"height":282,
"layer":[
{"data":{"name":"b"},"mark":{"type":"point","filled":true,"size":50,"opacity":1,"strokeWidth":0},
"encoding":{
"x":{"field":"V","type":"quantitative","scale":{"domain":[-1000,1100],"nice":false,"zero":false},"axis":{"title":"V (mV)","values":[-1000,-875,-750,-625,-500,-375,-250,-125,0,125,250,375,500,625,750,875,1000],"labelExpr":"datum.value % 250 === 0 ? '' + datum.value : ''","tickSize":{"condition":{"test":"datum.value % 250 === 0","value":6},"value":3}}},
"y":{"field":"I","type":"quantitative","scale":{"domain":[-3000,3000],"nice":false,"zero":false},"axis":{"title":"I (μA)","values":[-3000,-2500,-2000,-1500,-1000,-500,0,500,1000,1500,2000,2500,3000],"labelExpr":"datum.value % 1000 === 0 ? '' + datum.value : ''","tickSize":{"condition":{"test":"datum.value % 1000 === 0","value":6},"value":3}}},
"color":{"field":"s","type":"nominal","scale":{"domain":["1ˢᵗ ambient light","2ⁿᵈ ambient light","3ʳᵈ absence of light","4ᵗʰ absence of light","5ᵗʰ light spot"],"range":["#000000","#ff0000","#0000ff","#008080","#ff00ff"]},"legend":{"orient":"none","legendX":42,"legendY":18,"rowPadding":7}},
"shape":{"field":"s","type":"nominal","scale":{"domain":["1ˢᵗ ambient light","2ⁿᵈ ambient light","3ʳᵈ absence of light","4ᵗʰ absence of light","5ᵗʰ light spot"],"range":["square","circle","triangle-up","triangle-down","triangle-left"]},"legend":{"orient":"none","legendX":42,"legendY":18,"rowPadding":7}}
}},
{"data":{"values":[{"t":"(b)"}]},"mark":{"type":"text","align":"center","baseline":"middle"},
"encoding":{"x":{"datum":1026,"type":"quantitative"},"y":{"datum":2730,"type":"quantitative"},"text":{"field":"t"}}}
]
},
{
"width":400,"height":285,
"layer":[
{"data":{"name":"c"},"mark":{"type":"point","filled":true,"size":40,"opacity":1,"strokeWidth":0},
"encoding":{
"x":{"field":"V","type":"quantitative","scale":{"domain":[-2543,2506],"nice":false,"zero":false},"axis":{"title":"V (mV)","values":[-2000,-1500,-1000,-500,0,500,1000,1500,2000,2500],"labelExpr":"datum.value % 1000 === 0 ? '' + datum.value : ''","tickSize":{"condition":{"test":"datum.value % 1000 === 0","value":6},"value":3}}},
"y":{"field":"I","type":"quantitative","scale":{"domain":[-3,3],"nice":false,"zero":false},"axis":{"title":"I (μA)","values":[-3,-2.5,-2,-1.5,-1,-0.5,0,0.5,1,1.5,2,2.5,3],"labelExpr":"datum.value % 1 === 0 ? '' + datum.value : ''","tickSize":{"condition":{"test":"datum.value % 1 === 0","value":6},"value":3}}},
"color":{"field":"s","type":"nominal","scale":{"domain":["1ˢᵗ absence of light","2ⁿᵈ absence of light","1ˢᵗ ambient light","2ⁿᵈ ambient light"],"range":["#000000","#0000ff","#ff0000","#008080"]},"legend":{"orient":"none","legendX":31,"legendY":16}},
"shape":{"field":"s","type":"nominal","scale":{"domain":["1ˢᵗ absence of light","2ⁿᵈ absence of light","1ˢᵗ ambient light","2ⁿᵈ ambient light"],"range":["square","triangle-up","circle","triangle-down"]},"legend":{"orient":"none","legendX":31,"legendY":16}}
}},
{"data":{"values":[{"t":"(c)"}]},"mark":{"type":"text","align":"center","baseline":"middle"},
"encoding":{"x":{"datum":2294,"type":"quantitative"},"y":{"datum":2.61,"type":"quantitative"},"text":{"field":"t"}}}
]
}
]
}
